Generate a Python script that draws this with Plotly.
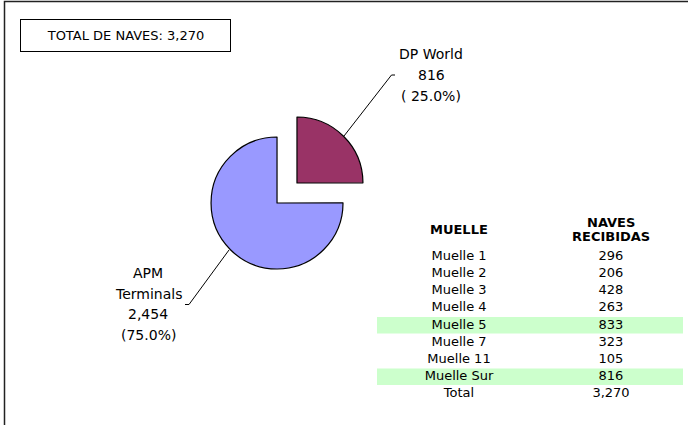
import plotly.graph_objects as go

W, H = 688, 425

# ---- data ----
terminals = ["DP World", "APM Terminals"]
terminal_label_lines = [["DP World"], ["APM", "Terminals"]]
terminal_values = [816, 2454]
terminal_colors = ["#993366", "#9999FF"]

muelles = ["Muelle 1", "Muelle 2", "Muelle 3", "Muelle 4", "Muelle 5",
           "Muelle 7", "Muelle 11", "Muelle Sur", "Total"]
naves = [296, 206, 428, 263, 833, 323, 105, 816, 3270]
highlight = ["Muelle 5", "Muelle Sur"]
table_headers = [["MUELLE"], ["NAVES", "RECIBIDAS"]]
total_naves = sum(terminal_values)

FONT = "DejaVu Sans"


def px(x):
    return x / W


def py(y):
    return 1 - y / H


fig = go.Figure()

# pie
pull = 0.214
cx, cy, half = 287, 193, 80.1
fig.add_trace(go.Pie(
    labels=terminals,
    values=terminal_values,
    sort=False,
    direction="clockwise",
    rotation=0,
    pull=[pull, pull],
    marker=dict(colors=terminal_colors, line=dict(color="black", width=1.2)),
    textinfo="none",
    hoverinfo="skip",
    showlegend=False,
    domain=dict(x=[px(cx - half), px(cx + half)], y=[py(cy + half), py(cy - half)]),
))

# table body on a hidden axis: x = column index, y = row index
rows = list(range(len(muelles)))
fig.add_trace(go.Scatter(x=[0] * len(muelles), y=rows, text=muelles, mode="text",
                         textposition="middle center", hoverinfo="skip", showlegend=False,
                         textfont=dict(family=FONT, size=13, color="black")))
fig.add_trace(go.Scatter(x=[1] * len(naves), y=rows, text=[f"{v:,}" for v in naves], mode="text",
                         textposition="middle center", hoverinfo="skip", showlegend=False,
                         textfont=dict(family=FONT, size=13, color="black")))

row_top_px, row_h = 256.7, 17.16
tbl_top, tbl_bot = row_top_px - row_h / 2, row_top_px + (len(muelles) - 0.5) * row_h
col0_px, col1_px, tbl_left, tbl_right = 459, 611, 377, 683
unit = col1_px - col0_px

shapes = []
for i, m in enumerate(muelles):
    if m in highlight:
        shapes.append(dict(type="rect", xref="x domain", yref="y", x0=0, x1=1,
                           y0=i - 0.48, y1=i + 0.48, fillcolor="#CCFFCC",
                           line=dict(width=0), layer="below"))

pct = [v / total_naves * 100 for v in terminal_values]
annotations = [
    dict(text=f"TOTAL DE NAVES: {total_naves:,}", x=px(125.5), y=py(35), xref="paper", yref="paper",
         showarrow=False, font=dict(family=FONT, size=13, color="black"),
         bordercolor="black", borderwidth=1, borderpad=2, width=205, height=27,
         xanchor="center", yanchor="middle"),
]

# pie labels, one annotation per line
label_lines = [
    terminal_label_lines[0] + [f"{terminal_values[0]:,}", f"( {pct[0]:.1f}%)"],
    terminal_label_lines[1] + [f"{terminal_values[1]:,}", f"({pct[1]:.1f}%)"],
]
label_centers = [(431, 75), (148, 304)]
LS = 20.5
for lines, (lx, ly) in zip(label_lines, label_centers):
    n = len(lines)
    for i, t in enumerate(lines):
        annotations.append(dict(
            text=t, x=px(lx), y=py(ly + (i - (n - 1) / 2) * LS), xref="paper", yref="paper",
            showarrow=False, font=dict(family=FONT, size=14, color="black"),
            xanchor="center", yanchor="middle"))

# table headers
for ci, hdr in enumerate(table_headers):
    n = len(hdr)
    for i, t in enumerate(hdr):
        annotations.append(dict(
            text=f"<b>{t}</b>", x=ci, xref="x",
            y=py(229.5 + (i - (n - 1) / 2) * 13), yref="paper",
            showarrow=False, font=dict(family=FONT, size=13, color="black"),
            xanchor="center", yanchor="middle"))

shapes += [
    # outer frame
    dict(type="rect", xref="paper", yref="paper", x0=px(4.5), x1=px(W + 10), y0=py(H + 10), y1=py(1.5),
         line=dict(color="#222222", width=1.5), fillcolor="rgba(0,0,0,0)", layer="below"),
    # leader lines
    dict(type="path", xref="paper", yref="paper",
         path=f"M {px(344)} {py(136)} L {px(391.5)} {py(75)} L {px(395)} {py(75)}",
         line=dict(color="black", width=1)),
    dict(type="path", xref="paper", yref="paper",
         path=f"M {px(229)} {py(250)} L {px(189)} {py(304.5)} L {px(185)} {py(304.5)}",
         line=dict(color="black", width=1)),
]

fig.update_layout(
    width=W, height=H,
    margin=dict(l=0, r=0, t=0, b=0),
    paper_bgcolor="white", plot_bgcolor="rgba(0,0,0,0)",
    annotations=annotations, shapes=shapes,
    font=dict(family=FONT),
    xaxis=dict(domain=[px(tbl_left), px(tbl_right)],
               range=[-(col0_px - tbl_left) / unit, 1 + (tbl_right - col1_px) / unit],
               visible=False, fixedrange=True),
    yaxis=dict(domain=[py(tbl_bot), py(tbl_top)], range=[len(muelles) - 0.5, -0.5],
               visible=False, fixedrange=True),
)

fig.write_html("out.html", config=dict(displayModeBar=False, staticPlot=True),
               post_script="document.body.style.margin='0';document.body.style.overflow='hidden';")
